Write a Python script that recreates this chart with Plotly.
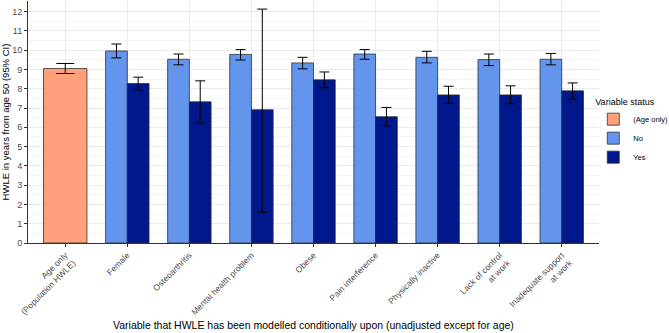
import plotly.graph_objects as go

categories = ["Age only<br>(Population HWLE)", "Female", "Osteoarthritis", "Mental health problem",
              "Obese", "Pain interference", "Physically inactive", "Lack of control<br>at work",
              "Inadequate support<br>at work"]

age_val = [9.05]
age_lo = [8.79]
age_hi = [9.31]

no_val = [9.96, 9.53, 9.78, 9.34, 9.80, 9.63, 9.51, 9.53]
no_lo = [9.60, 9.24, 9.49, 9.03, 9.53, 9.34, 9.20, 9.24]
no_hi = [10.32, 9.80, 10.03, 9.63, 10.03, 9.94, 9.80, 9.83]

yes_val = [8.27, 7.32, 6.91, 8.46, 6.55, 7.68, 7.68, 7.89]
yes_lo = [7.94, 6.22, 1.59, 8.05, 6.08, 7.24, 7.22, 7.46]
yes_hi = [8.60, 8.41, 12.13, 8.87, 7.03, 8.13, 8.15, 8.30]

y_ticks = list(range(0, 13))

def err(v, lo, hi, w):
    return dict(type="data", symmetric=False,
                array=[h - x for x, h in zip(v, hi)],
                arrayminus=[x - l for x, l in zip(v, lo)],
                color="black", thickness=1, width=w)

outline = dict(color="rgba(40,40,40,0.75)", width=1)

fig = go.Figure()
fig.add_trace(go.Bar(x=categories[:1], y=age_val, name="(Age only)", marker=dict(color="#FFA07A", line=outline),
                     width=0.7, offset=-0.35, error_y=err(age_val, age_lo, age_hi, 9)))
fig.add_trace(go.Bar(x=categories[1:], y=no_val, name="No", marker=dict(color="#6495ED", line=outline),
                     width=0.35, offset=-0.35, error_y=err(no_val, no_lo, no_hi, 5)))
fig.add_trace(go.Bar(x=categories[1:], y=yes_val, name="Yes", marker=dict(color="#00188C", line=outline),
                     width=0.35, offset=0.0, error_y=err(yes_val, yes_lo, yes_hi, 5)))

fig.update_layout(
    width=669, height=333,
    margin=dict(l=28, r=70, t=1, b=90, autoexpand=False),
    plot_bgcolor="white", paper_bgcolor="white",
    barmode="overlay",
    font=dict(family="Liberation Sans, Arial, sans-serif", size=9, color="#4d4d4d"),
    legend=dict(x=0.99, xanchor="left", y=0.62, yanchor="top",
                title=dict(text="Variable status", font=dict(size=9, color="black")),
                font=dict(size=7.5, color="black"), tracegroupgap=0, itemwidth=30,
                bgcolor="rgba(0,0,0,0)"),
    showlegend=True,
    annotations=[dict(text="Variable that HWLE has been modelled conditionally upon (unadjusted except for age)",
                      xref="paper", yref="paper", x=0.5, y=-0.34, xanchor="center", yanchor="middle",
                      showarrow=False, font=dict(size=10.5, color="black"))],
)
fig.update_xaxes(
    type="category", categoryorder="array", categoryarray=categories,
    range=[-0.6, 8.6], tickangle=-45, automargin=False,
    showgrid=True, gridcolor="#ebebeb", gridwidth=1,
    showline=True, linecolor="#333333", linewidth=1,
    ticks="outside", ticklen=3, tickcolor="#333333",
    tickfont=dict(size=8.5, color="#4d4d4d"),
)
fig.update_yaxes(
    range=[0, 12.55], tickvals=y_ticks, automargin=False,
    showgrid=True, gridcolor="#ebebeb", gridwidth=1,
    minor=dict(dtick=0.5, showgrid=True, gridcolor="#f4f4f4", gridwidth=1),
    showline=True, linecolor="#333333", linewidth=1,
    ticks="outside", ticklen=3, tickcolor="#333333",
    tickfont=dict(size=9, color="#4d4d4d"),
    zeroline=False,
    title=dict(text="HWLE in years from age 50 (95% CI)", font=dict(size=9.5, color="black"), standoff=1),
)
fig.write_html("out.html", config={"displayModeBar": False},
               post_script="document.body.style.margin='0';")
